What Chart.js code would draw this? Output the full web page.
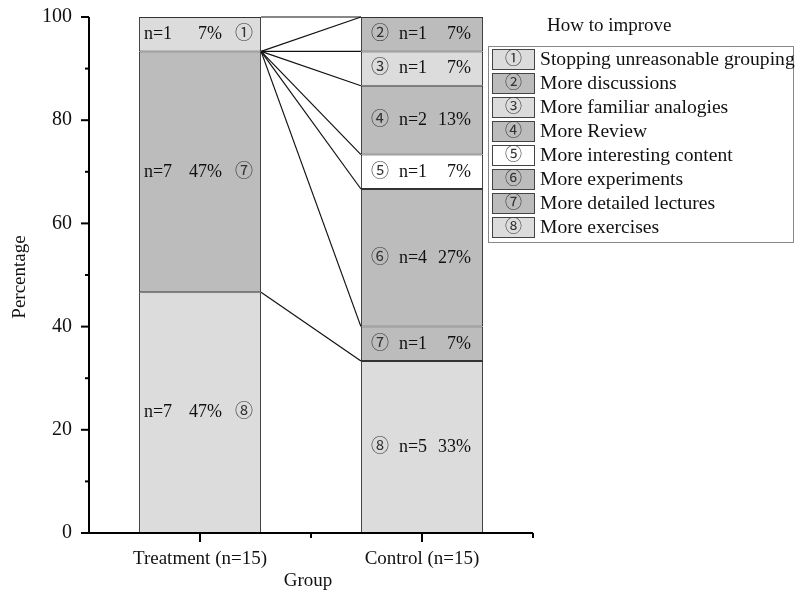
<!DOCTYPE html>
<html>
<head>
<meta charset="utf-8">
<script src="https://cdn.jsdelivr.net/npm/chart.js@4.4.1/dist/chart.umd.min.js"></script>
<style>
  html, body { margin: 0; padding: 0; background: #fff; }
</style>
</head>
<body>
<canvas id="improveChart" width="795" height="592"></canvas>
<script>
// data
const groups = ['Treatment (n=15)', 'Control (n=15)'];
const groupTotals = [15, 15];
const marks = ['\u2460', '\u2461', '\u2462', '\u2463', '\u2464', '\u2465', '\u2466', '\u2467'];
const reasons = [
  'Stopping unreasonable grouping',
  'More discussions',
  'More familiar analogies',
  'More Review',
  'More interesting content',
  'More experiments',
  'More detailed lectures',
  'More exercises'
];
const treatmentCounts = [1, 0, 0, 0, 0, 0, 7, 7];
const controlCounts = [0, 1, 1, 2, 1, 4, 1, 5];
const fills = ['#dcdcdc', '#bcbcbc', '#dcdcdc', '#bcbcbc', '#ffffff', '#bcbcbc', '#bcbcbc', '#dcdcdc'];
const yTicks = [0, 20, 40, 60, 80, 100];

const SERIF = "'Liberation Serif', 'Times New Roman', serif";
const MARKFONT = "'Noto Sans CJK SC', 'DejaVu Sans', sans-serif";
Chart.defaults.font.family = SERIF;
Chart.defaults.color = '#000';

const countsByGroup = [treatmentCounts, controlCounts];

// bottom of the stack is the last reason (8), so push datasets in reverse
const datasets = [];
for (let i = reasons.length - 1; i >= 0; i--) {
  datasets.push({
    label: reasons[i],
    mark: marks[i],
    counts: countsByGroup.map(c => c[i]),
    data: countsByGroup.map((c, g) => c[i] > 0 ? c[i] / groupTotals[g] * 100 : null),
    backgroundColor: fills[i],
    borderColor: '#333',
    borderWidth: 1,
    borderSkipped: false,
    barPercentage: 0.55,
    categoryPercentage: 1
  });
}

// connecting lines between stack boundaries
const connectPlugin = {
  id: 'connect',
  afterDatasetsDraw(chart) {
    const ctx = chart.ctx;
    const y = chart.scales.y;
    const ref = chart.getDatasetMeta(0).data;
    const x0 = ref[0].x + ref[0].width / 2;
    const x1 = ref[1].x - ref[1].width / 2;
    let cum0 = 0, cum1 = 0;
    ctx.save();
    ctx.strokeStyle = '#111';
    ctx.lineWidth = 1.2;
    chart.data.datasets.forEach(ds => {
      cum0 += ds.data[0] || 0;
      cum1 += ds.data[1] || 0;
      ctx.beginPath();
      ctx.moveTo(x0, y.getPixelForValue(cum0));
      ctx.lineTo(x1, y.getPixelForValue(cum1));
      ctx.stroke();
    });
    ctx.restore();
  }
};

// n= / % / circled mark inside each segment
const segLabelPlugin = {
  id: 'segLabels',
  afterDatasetsDraw(chart) {
    const ctx = chart.ctx;
    ctx.save();
    ctx.textBaseline = 'middle';
    chart.data.datasets.forEach((ds, di) => {
      const meta = chart.getDatasetMeta(di);
      meta.data.forEach((bar, g) => {
        if (ds.data[g] == null) return;
        const left = bar.x - bar.width / 2;
        const cy = (bar.y + bar.base) / 2;
        const pct = Math.round(ds.data[g]) + '%';
        ctx.fillStyle = '#111';
        ctx.font = '18px ' + SERIF;
        const nx = g === 0 ? left + 5 : left + 38;
        const px = g === 0 ? left + 83 : left + 110;
        const mx = g === 0 ? left + 105 : left + 19;
        ctx.textAlign = 'left';
        ctx.fillText('n=' + ds.counts[g], nx, cy);
        ctx.textAlign = 'right';
        ctx.fillText(pct, px, cy);
        ctx.textAlign = 'center';
        ctx.fillStyle = '#333';
        ctx.font = '18px ' + MARKFONT;
        ctx.fillText(ds.mark, mx, cy - 2);
      });
    });
    ctx.restore();
  }
};

// axis lines, ticks, titles and legend box
const framePlugin = {
  id: 'frame',
  afterDraw(chart) {
    const ctx = chart.ctx;
    const a = chart.chartArea;
    const y = chart.scales.y;
    const x = chart.scales.x;
    ctx.save();
    ctx.strokeStyle = '#000';
    ctx.lineWidth = 2;
    ctx.beginPath();
    ctx.moveTo(a.left, a.top);
    ctx.lineTo(a.left, a.bottom);
    ctx.lineTo(a.right, a.bottom);
    ctx.stroke();

    // y ticks, minor halfway
    yTicks.forEach((v, i) => {
      const py = y.getPixelForValue(v);
      ctx.beginPath();
      ctx.moveTo(a.left - 8, py);
      ctx.lineTo(a.left, py);
      ctx.stroke();
      if (i < yTicks.length - 1) {
        const my = y.getPixelForValue((v + yTicks[i + 1]) / 2);
        ctx.beginPath();
        ctx.moveTo(a.left - 4, my);
        ctx.lineTo(a.left, my);
        ctx.stroke();
      }
    });

    // x ticks
    groups.forEach((g, i) => {
      const px = x.getPixelForValue(i);
      ctx.beginPath();
      ctx.moveTo(px, a.bottom);
      ctx.lineTo(px, a.bottom + 9);
      ctx.stroke();
    });
    const mid = (x.getPixelForValue(0) + x.getPixelForValue(1)) / 2;
    [mid, a.right].forEach(px => {
      ctx.beginPath();
      ctx.moveTo(px, a.bottom);
      ctx.lineTo(px, a.bottom + 5);
      ctx.stroke();
    });

    // axis titles
    ctx.fillStyle = '#111';
    ctx.font = '19px ' + SERIF;
    ctx.textAlign = 'center';
    ctx.textBaseline = 'middle';
    ctx.fillText('Group', mid - 3, 581);
    ctx.save();
    ctx.translate(20, 277);
    ctx.rotate(-Math.PI / 2);
    ctx.fillText('Percentage', 0, 0);
    ctx.restore();

    // legend
    ctx.textAlign = 'left';
    ctx.fillText('How to improve', 547, 26);
    ctx.strokeStyle = '#888';
    ctx.lineWidth = 1;
    ctx.strokeRect(488.5, 46.5, 305, 196);
    reasons.forEach((r, i) => {
      const top = 49 + i * 24;
      ctx.fillStyle = fills[i];
      ctx.fillRect(492, top, 43, 20);
      ctx.strokeStyle = '#444';
      ctx.strokeRect(492.5, top + 0.5, 42, 20);
      ctx.fillStyle = '#333';
      ctx.textAlign = 'center';
      ctx.font = '17px ' + MARKFONT;
      ctx.fillText(marks[i], 513.5, top + 8.5);
      ctx.fillStyle = '#111';
      ctx.textAlign = 'left';
      ctx.font = '19.6px ' + SERIF;
      ctx.fillText(r, 540, top + 11);
    });
    ctx.restore();
  }
};

new Chart(document.getElementById('improveChart'), {
  type: 'bar',
  data: { labels: groups, datasets: datasets },
  options: {
    responsive: false,
    animation: false,
    layout: { padding: { left: 0, right: 262, top: 17, bottom: 0 } },
    plugins: { legend: { display: false }, tooltip: { enabled: false } },
    scales: {
      x: {
        stacked: true,
        offset: true,
        grid: { display: false, drawTicks: false },
        border: { display: false },
        ticks: { padding: 15, font: { size: 19 }, color: '#111', maxRotation: 0 },
        afterFit(s) { s.height = 59; s.paddingLeft = 0; s.paddingRight = 0; }
      },
      y: {
        stacked: true,
        min: 0,
        max: 100,
        grid: { display: false, drawTicks: false },
        border: { display: false },
        ticks: { stepSize: 20, padding: 17, font: { size: 20 }, color: '#111' },
        afterFit(s) { s.width = 89; s.paddingTop = 0; s.paddingBottom = 0; }
      }
    }
  },
  plugins: [connectPlugin, segLabelPlugin, framePlugin]
});
</script>
</body>
</html>
